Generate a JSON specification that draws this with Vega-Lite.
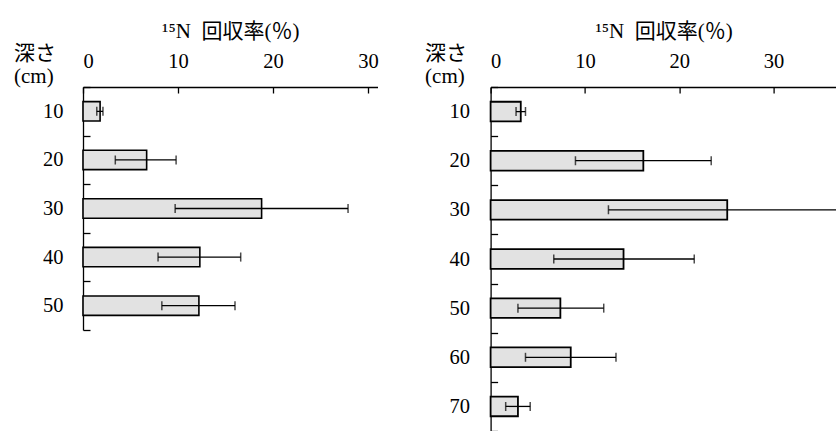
{
  "$schema": "https://vega.github.io/schema/vega-lite/v6.json",
  "autosize": {"type": "pad"},
  "padding": {"left": 13, "top": 20, "right": 0, "bottom": 0},
  "background": "white",
  "datasets": {
    "left": [
      {"depth": 10, "mean": 1.8, "lo": 1.45, "hi": 2.1},
      {"depth": 20, "mean": 6.7, "lo": 3.4, "hi": 9.8},
      {"depth": 30, "mean": 18.8, "lo": 9.7, "hi": 27.9},
      {"depth": 40, "mean": 12.3, "lo": 7.9, "hi": 16.6},
      {"depth": 50, "mean": 12.2, "lo": 8.3, "hi": 16.0}
    ],
    "right": [
      {"depth": 10, "mean": 3.2, "lo": 2.7, "hi": 3.7},
      {"depth": 20, "mean": 16.2, "lo": 9.0, "hi": 23.4},
      {"depth": 30, "mean": 25.1, "lo": 12.5, "hi": 37.7},
      {"depth": 40, "mean": 14.1, "lo": 6.7, "hi": 21.6},
      {"depth": 50, "mean": 7.4, "lo": 2.9, "hi": 12.0},
      {"depth": 60, "mean": 8.5, "lo": 3.7, "hi": 13.3},
      {"depth": 70, "mean": 2.9, "lo": 1.6, "hi": 4.2}
    ]
  },
  "spacing": 112.6,
  "bounds": "flush",
  "hconcat": [
    {
      "width": 294.5,
      "height": 243,
      "data": {"name": "left"},
      "encoding": {
        "y": {
          "field": "depth", "type": "ordinal",
          "scale": {"paddingInner": 0, "paddingOuter": 0},
          "axis": {"title": ["深さ", "(cm)"], "titleAngle": 0, "titleAlign": "left", "titleBaseline": "top", "titleX": -69.5, "titleY": -45, "titleLineHeight": 23, "tickBand": "extent", "tickSize": -7, "labelPadding": 27, "labelAngle": 0}
        }
      },
      "layer": [
        {
          "mark": {"type": "bar", "height": {"band": 0.4}, "fill": "#e2e2e2", "stroke": "black", "strokeWidth": 1.6},
          "encoding": {"x": {"field": "mean", "type": "quantitative", "title": "¹⁵N\u2002回収率(％)", "scale": {"domain": [0, 31], "nice": false}, "axis": {"orient": "top", "values": [0, 10, 20, 30], "tickSize": -6, "labelPadding": 22, "titlePadding": 10}}}
        },
        {
          "mark": {"type": "rule", "color": "black", "strokeWidth": 1.3, "clip": true},
          "encoding": {"x": {"field": "lo", "type": "quantitative", "title": "¹⁵N\u2002回収率(％)", "scale": {"domain": [0, 31], "nice": false}}, "x2": {"field": "hi"}}
        },
        {
          "mark": {"type": "tick", "color": "black", "size": 9, "thickness": 1.5, "clip": true},
          "encoding": {"x": {"field": "lo", "type": "quantitative", "title": "¹⁵N\u2002回収率(％)", "scale": {"domain": [0, 31], "nice": false}}}
        },
        {
          "mark": {"type": "tick", "color": "black", "size": 9, "thickness": 1.5, "clip": true},
          "encoding": {"x": {"field": "hi", "type": "quantitative", "title": "¹⁵N\u2002回収率(％)", "scale": {"domain": [0, 31], "nice": false}}}
        }
      ]
    },
    {
      "width": 346,
      "height": 344,
      "data": {"name": "right"},
      "encoding": {
        "y": {
          "field": "depth", "type": "ordinal",
          "scale": {"paddingInner": 0, "paddingOuter": 0},
          "axis": {"title": ["深さ", "(cm)"], "titleAngle": 0, "titleAlign": "left", "titleBaseline": "top", "titleX": -66, "titleY": -45, "titleLineHeight": 23, "tickBand": "extent", "tickSize": -7, "labelPadding": 28, "labelAngle": 0}
        }
      },
      "layer": [
        {
          "mark": {"type": "bar", "height": {"band": 0.4}, "fill": "#e2e2e2", "stroke": "black", "strokeWidth": 1.8},
          "encoding": {"x": {"field": "mean", "type": "quantitative", "title": "¹⁵N\u2002回収率(％)", "scale": {"domain": [0, 36.7], "nice": false}, "axis": {"orient": "top", "values": [0, 10, 20, 30], "tickSize": -6, "labelPadding": 22, "titlePadding": 10}}}
        },
        {
          "mark": {"type": "rule", "color": "black", "strokeWidth": 1.3, "clip": true},
          "encoding": {"x": {"field": "lo", "type": "quantitative", "title": "¹⁵N\u2002回収率(％)", "scale": {"domain": [0, 36.7], "nice": false}}, "x2": {"field": "hi"}}
        },
        {
          "mark": {"type": "tick", "color": "black", "size": 9, "thickness": 1.5, "clip": true},
          "encoding": {"x": {"field": "lo", "type": "quantitative", "title": "¹⁵N\u2002回収率(％)", "scale": {"domain": [0, 36.7], "nice": false}}}
        },
        {
          "mark": {"type": "tick", "color": "black", "size": 9, "thickness": 1.5, "clip": true},
          "encoding": {"x": {"field": "hi", "type": "quantitative", "title": "¹⁵N\u2002回収率(％)", "scale": {"domain": [0, 36.7], "nice": false}}}
        }
      ]
    }
  ],
  "config": {
    "view": {"stroke": null},
    "axis": {
      "grid": false,
      "domainColor": "black",
      "domainWidth": 1.3,
      "tickColor": "black",
      "tickWidth": 1.3,
      "labelColor": "black",
      "labelFont": "Liberation Serif",
      "labelFontSize": 20.5,
      "titleColor": "black",
      "titleFont": "Liberation Serif, DejaVu Serif, Noto Sans CJK JP",
      "titleFontSize": 21,
      "titleFontWeight": "normal"
    },
    "axisY": {"titleFontSize": 21}
  }
}
